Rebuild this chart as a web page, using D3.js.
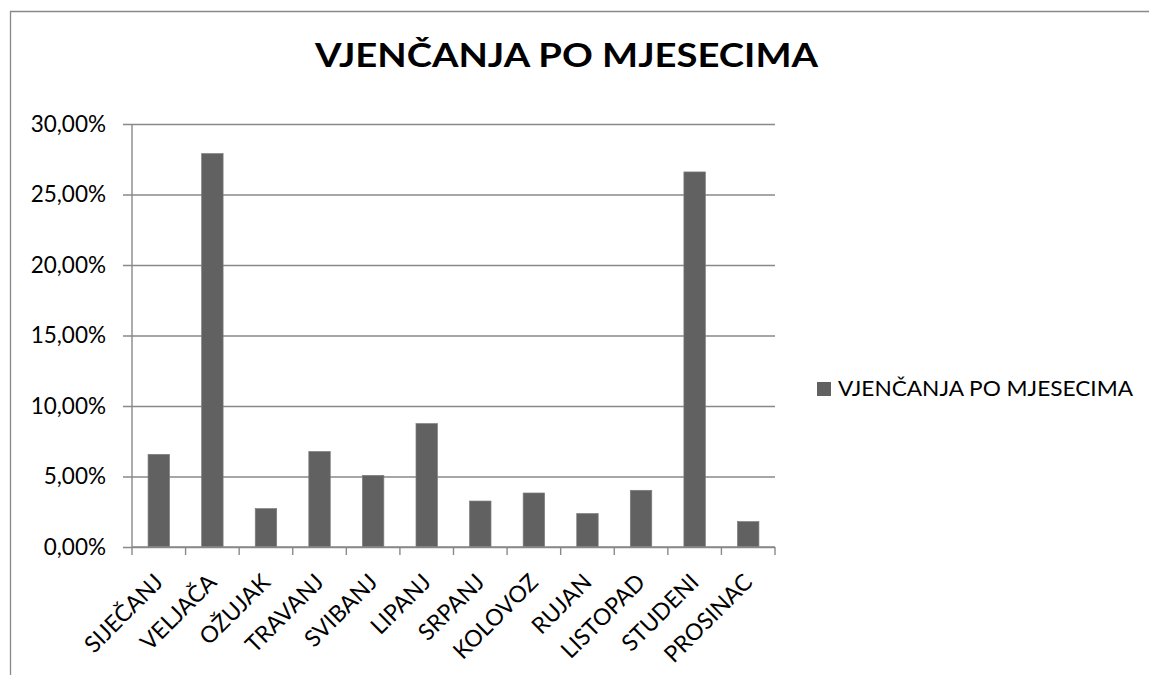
<!DOCTYPE html>
<html>
<head>
<meta charset="utf-8">
<script src="https://cdn.jsdelivr.net/npm/d3@7"></script>
<style>
  body { margin: 0; background: #fff; }
  svg { display: block; font-family: Lato, "Open Sans", sans-serif; }
</style>
</head>
<body>
<svg id="chart" width="1149" height="675"></svg>
<script>
// ----------------- DATA ----------------- //
var chartTitle = 'VJENČANJA PO MJESECIMA';
var seriesName = 'VJENČANJA PO MJESECIMA';
var months = ['SIJEČANJ', 'VELJAČA', 'OŽUJAK', 'TRAVANJ', 'SVIBANJ', 'LIPANJ',
              'SRPANJ', 'KOLOVOZ', 'RUJAN', 'LISTOPAD', 'STUDENI', 'PROSINAC'];
var shares = [0.0657, 0.279, 0.0272, 0.0677, 0.0508, 0.0875,
              0.0326, 0.0383, 0.0237, 0.0402, 0.266, 0.018];
var yTicks = [0, 0.05, 0.10, 0.15, 0.20, 0.25, 0.30];

// ----------------- LAYOUT ----------------- //
var plot = { left: 132, right: 775, top: 124, bottom: 547 };
var gray = '#898989';
var barColor = '#616161';

var svg = d3.select('#chart');

// outer frame (only left and top edges are visible in the crop)
svg.append('path')
    .attr('d', 'M10.5,675 V11.5 H1149')
    .attr('fill', 'none')
    .attr('stroke', gray)
    .attr('stroke-width', 1.3);

var x = d3.scaleBand()
    .domain(months)
    .range([plot.left, plot.right])
    .padding(0);

var y = d3.scaleLinear()
    .domain([0, 0.30])
    .range([plot.bottom, plot.top]);

var fmt = function (d) { return (d * 100).toFixed(2).replace('.', ',') + '%'; };

// ----------------- GRID + Y AXIS ----------------- //
var yAxis = svg.append('g')
    .attr('transform', 'translate(' + plot.left + ',0)')
    .call(d3.axisLeft(y)
        .tickValues(yTicks)
        .tickSize(9)
        .tickPadding(17)
        .tickFormat(fmt))
    .attr('font-family', null)
    .attr('font-size', null);

yAxis.select('.domain').remove();
yAxis.selectAll('.tick line')
    .attr('x2', plot.right - plot.left)
    .attr('x1', -9)
    .attr('stroke', gray)
    .attr('stroke-width', 1.4);
yAxis.selectAll('.tick text')
    .attr('fill', '#000')
    .style('font-size', '22.5px');

// ----------------- BARS ----------------- //
var barW = x.bandwidth() * 0.4;

svg.append('g')
    .selectAll('rect')
    .data(shares)
    .join('rect')
    .attr('x', (d, i) => x(months[i]) + (x.bandwidth() - barW) / 2)
    .attr('y', d => y(d))
    .attr('width', barW)
    .attr('height', d => y(0) - y(d))
    .attr('fill', barColor)
    .attr('stroke', '#7c7c7c')
    .attr('stroke-width', 0.7);

// ----------------- X AXIS ----------------- //
var xAxis = svg.append('g');

xAxis.append('line')
    .attr('x1', plot.left).attr('x2', plot.right)
    .attr('y1', y(0)).attr('y2', y(0))
    .attr('stroke', gray)
    .attr('stroke-width', 1.4);

xAxis.append('line')
    .attr('x1', plot.left).attr('x2', plot.left)
    .attr('y1', plot.top).attr('y2', y(0))
    .attr('stroke', gray)
    .attr('stroke-width', 1.4);

// tick marks sit on category boundaries
xAxis.selectAll('line.tick')
    .data(months.map(m => x(m)).concat([plot.right]))
    .join('line')
    .attr('class', 'tick')
    .attr('x1', d => d).attr('x2', d => d)
    .attr('y1', y(0)).attr('y2', y(0) + 8)
    .attr('stroke', gray)
    .attr('stroke-width', 1.4);

xAxis.selectAll('text')
    .data(months)
    .join('text')
    .attr('transform', d => 'translate(' + (x(d) + x.bandwidth() / 2) + ',' + (y(0) + 31) + ') rotate(-45)')
    .attr('text-anchor', 'end')
    .attr('dy', '0.35em')
    .style('font-size', '23px')
    .text(d => d);

// ----------------- TITLE ----------------- //
svg.append('text')
    .attr('x', 566.5)
    .attr('y', 67)
    .attr('text-anchor', 'middle')
    .attr('textLength', 503)
    .attr('lengthAdjust', 'spacingAndGlyphs')
    .style('font-size', '32px')
    .style('font-weight', 'bold')
    .text(chartTitle);

// ----------------- LEGEND ----------------- //
var legend = svg.append('g').attr('transform', 'translate(817,382)');

legend.append('rect')
    .attr('width', 14)
    .attr('height', 14)
    .attr('fill', barColor);

legend.append('text')
    .attr('x', 21)
    .attr('y', 14)
    .attr('textLength', 295)
    .attr('lengthAdjust', 'spacingAndGlyphs')
    .style('font-size', '21.5px')
    .text(seriesName);
</script>
</body>
</html>
